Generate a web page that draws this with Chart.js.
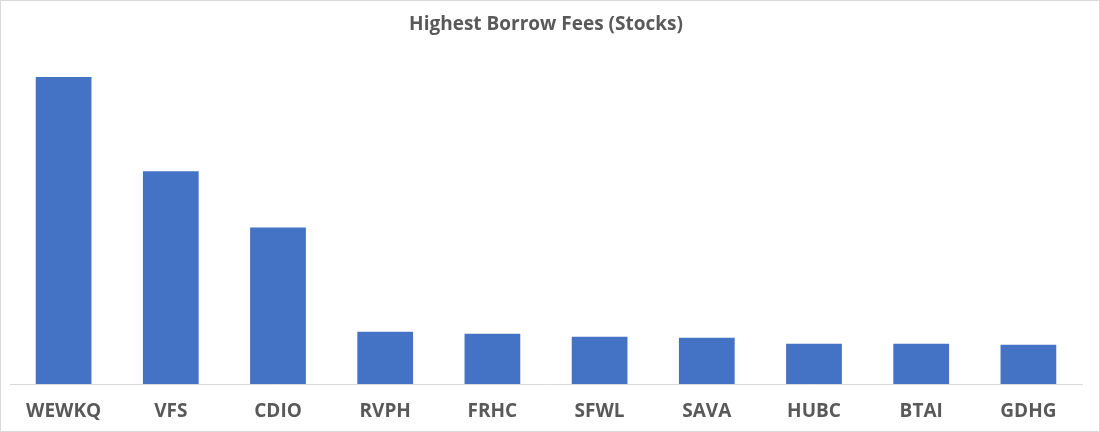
<!DOCTYPE html>
<html>
<head>
<meta charset="utf-8">
<script src="https://cdn.jsdelivr.net/npm/chart.js@4"></script>
<style>
  body { margin: 0; background: #fff; }
  #wrap { width: 1100px; height: 432px; box-sizing: border-box; border: 1px solid #d9d9d9; }
</style>
</head>
<body>
<div id="wrap"><canvas id="chart" width="1098" height="430"></canvas></div>
<script>
// tickers and borrow fee values
const tickers = ["WEWKQ", "VFS", "CDIO", "RVPH", "FRHC", "SFWL", "SAVA", "HUBC", "BTAI", "GDHG"];
const fees = [306, 212, 156, 52, 50, 47, 46, 40, 40, 39];
const yMax = 330;

const ctx = document.getElementById("chart").getContext("2d");
const grey = "#595959";

new Chart(ctx, {
  type: "bar",
  data: {
    labels: tickers,
    datasets: [{
      label: "Borrow fee",
      data: fees,
      backgroundColor: "#4472C4",
      categoryPercentage: 1,
      barPercentage: 0.52
    }]
  },
  options: {
    responsive: false,
    animation: false,
    layout: { padding: { left: 9, right: 17, bottom: 0 } },
    plugins: {
      legend: { display: false },
      tooltip: { enabled: false },
      title: {
        display: true,
        text: "Highest Borrow Fees (Stocks)",
        color: grey,
        font: { family: "Open Sans", size: 19, weight: "bold" },
        padding: { top: 12, bottom: 17 }
      }
    },
    scales: {
      x: {
        grid: { display: false, drawTicks: false },
        border: { display: true, color: "#d9d9d9", width: 1 },
        ticks: {
          color: grey,
          padding: 16,
          font: { family: "Open Sans", size: 19, weight: "bold" }
        },
        afterFit: (scale) => { scale.height = 47; }
      },
      y: {
        display: false,
        min: 0,
        max: yMax
      }
    }
  }
});
</script>
</body>
</html>
